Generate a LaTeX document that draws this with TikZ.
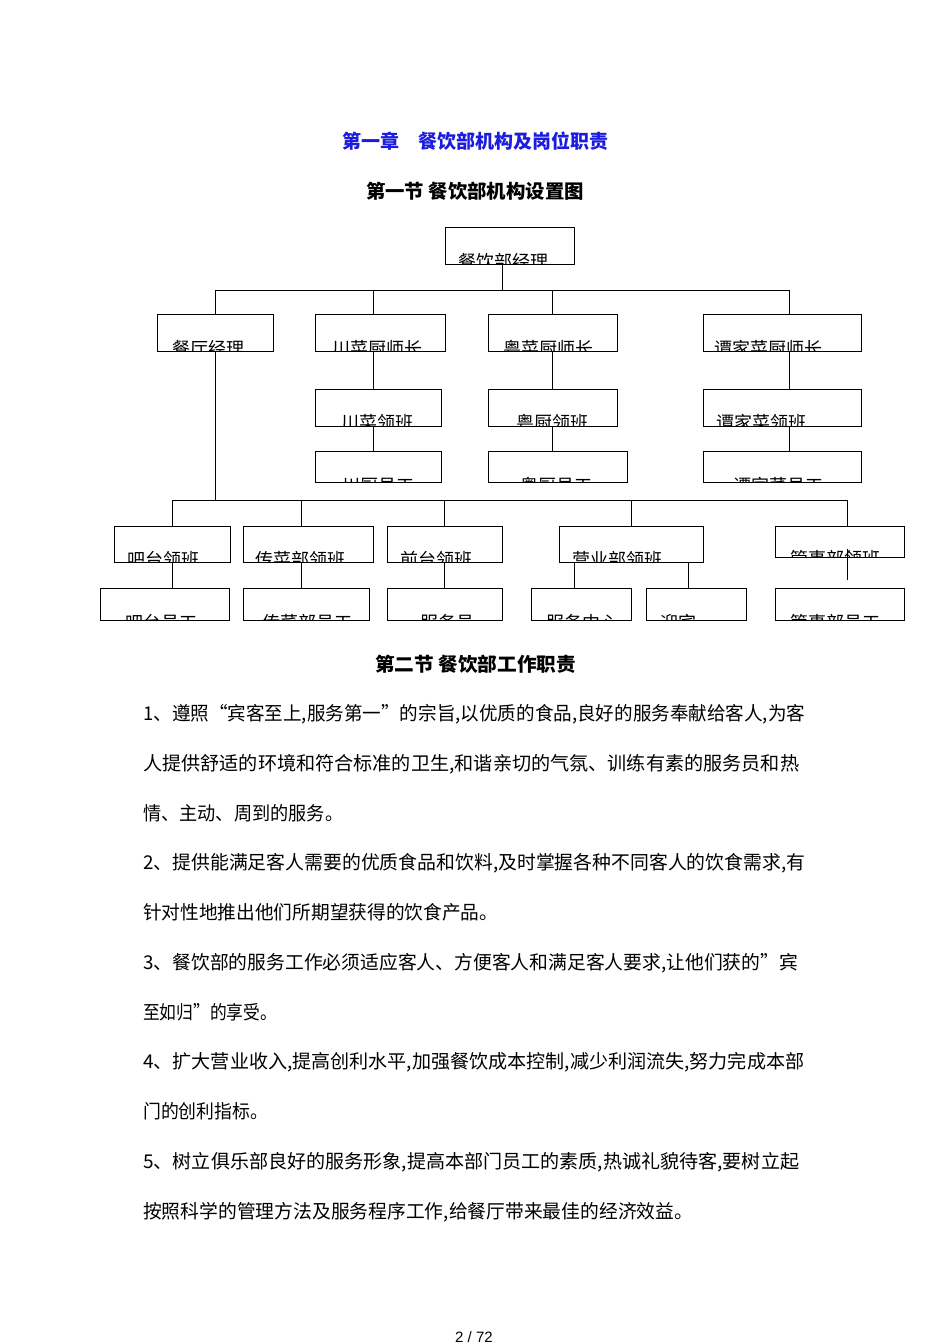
\documentclass[tikz,border=0pt]{standalone}
\usepackage{fontspec}
\usepackage{graphicx}
\newfontfamily\cjk{Noto Sans CJK SC}
\newfontfamily\pgnum{Liberation Sans}
\definecolor{headblue}{RGB}{28,28,225}
\tikzset{
  orgbox/.style={draw=black, line width=0.9pt, inner sep=0pt},
  boxtext/.style={anchor=base west, inner sep=0pt, font=\cjk\fontsize{18}{18}\selectfont},
  conn/.style={draw=black, line width=0.9pt},
  bodyline/.style={anchor=west, inner sep=0pt, font=\cjk\fontsize{19}{19}\selectfont},
  headline/.style={inner sep=0pt, font=\cjk\bfseries\fontsize{19}{19}\selectfont},
}
\newcommand\obox[8]{%
  \begin{scope}
    \clip (#2,#3) rectangle (#4,#5);
    \node[boxtext] (#1t) at (#6,{#7+18}) {#8};
  \end{scope}
  \node[orgbox, minimum width={(#4-#2)*1pt}, minimum height={(#5-#3)*1pt}] (#1) at ({(#2+#4)/2},{(#3+#5)/2}) {};
}
\begin{document}
\begin{tikzpicture}[x=1pt,y=-1pt]
\useasboundingbox[fill=white] (0,0) rectangle (950,1344);

% headings
\node[headline, text=headblue] (h1) at (475,141) {\resizebox{266pt}{\height}{第一章　餐饮部机构及岗位职责}};
\node[headline] (h2) at (475,191) {\resizebox{218pt}{\height}{第一节 餐饮部机构设置图}};

% boxes
\obox{A}{445}{227}{574}{264}{458}{250}{餐饮部经理}
\obox{B1}{157}{314}{273}{351}{172}{337}{餐厅经理}
\obox{B2}{315}{314}{445}{351}{332}{337}{川菜厨师长}
\obox{B3}{488}{314}{617}{351}{503}{337}{粤菜厨师长}
\obox{B4}{703}{314}{861}{351}{714}{337}{谭家菜厨师长}
\obox{C2}{315}{389}{441}{426}{341}{411}{川菜领班}
\obox{C3}{488}{389}{617}{426}{516}{411}{粤厨领班}
\obox{C4}{703}{389}{861}{426}{716}{411}{谭家菜领班}
\obox{D2}{315}{451}{441}{482}{342}{474}{川厨员工}
\obox{D3}{488}{451}{627}{482}{520}{474}{粤厨员工}
\obox{D4}{703}{451}{861}{482}{733}{474}{谭家菜员工}
\obox{E1}{114}{526}{230}{562}{127}{548}{吧台领班}
\obox{E2}{243}{526}{373}{562}{255}{548}{传菜部领班}
\obox{E3}{387}{526}{502}{562}{400}{548}{前台领班}
\obox{E4}{559}{526}{703}{562}{572}{548}{营业部领班}
\obox{E5}{775}{526}{904}{557}{790}{547}{管事部领班}
\obox{F1}{100}{588}{229}{620}{125}{611}{吧台员工}
\obox{F2}{243}{588}{369}{620}{262}{611}{传菜部员工}
\obox{F3}{387}{588}{502}{620}{420}{611}{服务员}
\obox{F4}{531}{588}{631}{620}{546}{611}{服务中心}
\obox{F5}{646}{588}{746}{620}{660}{611}{迎宾}
\obox{F6}{775}{588}{904}{620}{790}{611}{管事部员工}

% connectors
\coordinate (bus1L) at (215,290);
\coordinate (bus1R) at (789,290);
\coordinate (bus2L) at (172,500);
\coordinate (bus2R) at (847,500);
\draw[conn] (bus1L) -- (bus1R);
\draw[conn] (bus2L) -- (bus2R);
\draw[conn] ([xshift=-7.5pt]A.south) -- ([xshift=-7.5pt]A.south |- bus1L);
\draw[conn] (B1.north) -- (B1.north |- bus1L);
\draw[conn] ([xshift=-7pt]B2.north) -- ([xshift=-7pt]B2.north |- bus1L);
\draw[conn] (B3.north) -- (B3.north |- bus1L);
\draw[conn] ([xshift=7pt]B4.north) -- ([xshift=7pt]B4.north |- bus1L);
\draw[conn] ([xshift=-7pt]B2.south) -- ([xshift=-7pt]B2.south |- C2.north);
\draw[conn] ([xshift=-5pt]C2.south) -- ([xshift=-5pt]C2.south |- D2.north);
\draw[conn] (B3.south) -- (B3.south |- C3.north);
\draw[conn] (C3.south) -- (C3.south |- D3.north);
\draw[conn] ([xshift=7pt]B4.south) -- ([xshift=7pt]B4.south |- C4.north);
\draw[conn] ([xshift=7pt]C4.south) -- ([xshift=7pt]C4.south |- D4.north);
\draw[conn] (B1.south) -- (B1.south |- bus2L);
\draw[conn] (E1.north) -- (E1.north |- bus2L);
\draw[conn] ([xshift=-7pt]E2.north) -- ([xshift=-7pt]E2.north |- bus2L);
\draw[conn] (E3.north) -- (E3.north |- bus2L);
\draw[conn] (E4.north) -- (E4.north |- bus2L);
\draw[conn] ([xshift=7.5pt]E5.north) -- ([xshift=7.5pt]E5.north |- bus2L);
\draw[conn] (E1.south) -- (E1.south |- F1.north);
\draw[conn] ([xshift=-7pt]E2.south) -- ([xshift=-7pt]E2.south |- F2.north);
\draw[conn] (E3.south) -- (E3.south |- F3.north);
\draw[conn] ([xshift=-57pt]E4.south) -- ([xshift=-57pt]E4.south |- F4.north);
\draw[conn] ([xshift=57pt]E4.south) -- ([xshift=57pt]E4.south |- F5.north);
\draw[conn] ([xshift=7.5pt,yshift=8pt]E5.south) -- ([xshift=7.5pt,yshift=8pt]E5.south |- F6.north);

% section 2
\node[headline] (h3) at (475.5,664) {\resizebox{201pt}{\height}{第二节 餐饮部工作职责}};
\node[bodyline] (l1) at (143,714) {\resizebox{662pt}{\height}{1、遵照“宾客至上,服务第一”的宗旨,以优质的食品,良好的服务奉献给客人,为客}};
\node[bodyline] (l2) at (143,764) {\resizebox{656pt}{\height}{人提供舒适的环境和符合标准的卫生,和谐亲切的气氛、训练有素的服务员和热}};
\node[bodyline] (l3) at (143,813) {\resizebox{200pt}{\height}{情、主动、周到的服务。}};
\node[bodyline] (l4) at (143,863) {\resizebox{662pt}{\height}{2、提供能满足客人需要的优质食品和饮料,及时掌握各种不同客人的饮食需求,有}};
\node[bodyline] (l5) at (143,912) {\resizebox{355pt}{\height}{针对性地推出他们所期望获得的饮食产品。}};
\node[bodyline] (l6) at (143,963) {\resizebox{655pt}{\height}{3、餐饮部的服务工作必须适应客人、方便客人和满足客人要求,让他们获的”宾}};
\node[bodyline] (l7) at (143,1012) {\resizebox{134pt}{\height}{至如归”的享受。}};
\node[bodyline] (l8) at (143,1062) {\resizebox{661pt}{\height}{4、扩大营业收入,提高创利水平,加强餐饮成本控制,减少利润流失,努力完成本部}};
\node[bodyline] (l9) at (143,1111) {\resizebox{125pt}{\height}{门的创利指标。}};
\node[bodyline] (l10) at (143,1162) {\resizebox{656pt}{\height}{5、树立俱乐部良好的服务形象,提高本部门员工的素质,热诚礼貌待客,要树立起}};
\node[bodyline] (l11) at (143,1212) {\resizebox{550pt}{\height}{按照科学的管理方法及服务程序工作,给餐厅带来最佳的经济效益。}};

\node[inner sep=0pt, font=\pgnum\fontsize{15}{15}\selectfont] (pg) at (474,1337) {2 / 72};
\end{tikzpicture}
\end{document}
